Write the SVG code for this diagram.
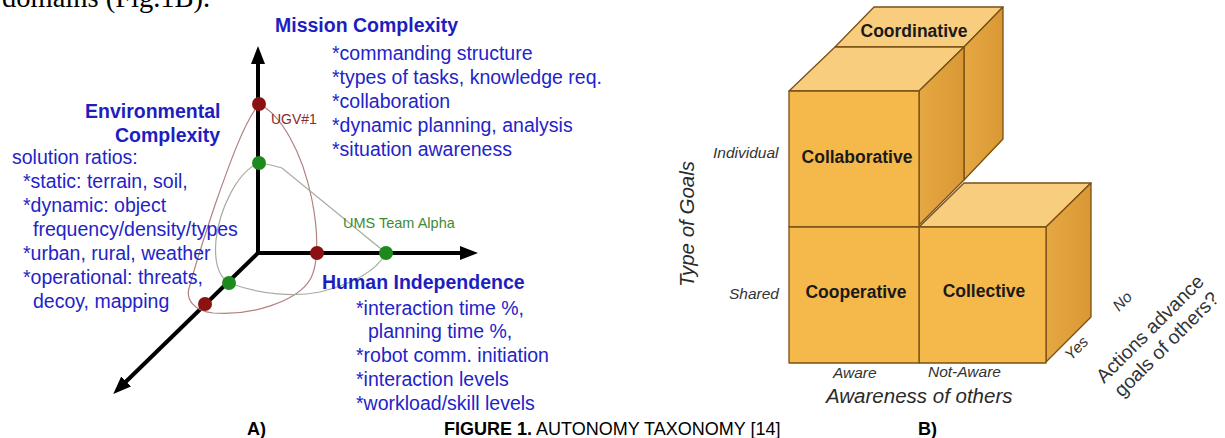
<svg xmlns="http://www.w3.org/2000/svg" width="1225" height="438" viewBox="0 0 1225 438">
<style>
.bt{font-family:"Liberation Sans",Arial,sans-serif;font-size:19.5px;fill:#2323c8}
.bh{font-family:"Liberation Sans",Arial,sans-serif;font-size:19.5px;font-weight:bold;fill:#1e1ebf}
.ax{stroke:#000;stroke-width:4;fill:none}
.dr{fill:#8b1212}
.dg{fill:#1e8a1e}
.cv{fill:none;stroke-width:1.2}
.fr{fill:#f5b84b;stroke:#7a4f14;stroke-width:1.3;stroke-linejoin:round}
.tp{fill:#f9cd7e;stroke:#7a4f14;stroke-width:1.3;stroke-linejoin:round}
.rt{fill:url(#rg);stroke:#7a4f14;stroke-width:1.3;stroke-linejoin:round}
.cl{font-family:"Liberation Sans",Arial,sans-serif;font-size:17.5px;font-weight:bold;fill:#1a1a1a;text-anchor:middle}
.it{font-family:"Liberation Sans",Arial,sans-serif;font-style:italic;font-size:15.5px;fill:#333}
.ib{font-family:"Liberation Sans",Arial,sans-serif;font-style:italic;font-size:20.5px;fill:#2a2a2a}
.rq{font-family:"Liberation Sans",Arial,sans-serif;font-size:19.5px;fill:#333}
.cap{font-family:"Liberation Sans",Arial,sans-serif;font-size:18px;fill:#000}
</style>
<defs>
<marker id="ah" markerUnits="userSpaceOnUse" markerWidth="18" markerHeight="14" viewBox="0 0 18 14" refX="3" refY="7" orient="auto">
<path d="M0,0 L18,7 L0,14 z" fill="#000"/>
</marker>
<linearGradient id="rg" x1="0" y1="0" x2="1" y2="0">
<stop offset="0" stop-color="#e6a843"/>
<stop offset="1" stop-color="#d99833"/>
</linearGradient>
</defs>
<rect width="1225" height="438" fill="#fff"/>

<text x="2" y="7" font-family="'Liberation Serif',serif" font-size="28.5" fill="#000">domains (Fig.1B).</text>

<g id="connectors">
<line class="ax" x1="258" y1="255" x2="258" y2="61" marker-end="url(#ah)"/>
<line class="ax" x1="256" y1="253" x2="463" y2="253" marker-end="url(#ah)"/>
<line class="ax" x1="259" y1="252" x2="124" y2="383.5" marker-end="url(#ah)"/>
<path class="cv" stroke="#b08080" d="M259,104 C280,114 302,150 312,200 C318,230 319,262 311,278 C298,302 250,316 213,313 C195,311 184,300 190,285 C196,262 205,235 215,205 C228,168 244,122 259,104 Z"/>
<path class="cv" stroke="#a8aca0" d="M259,163 C268,164 276,166 282,168 L386,253 C378,268 360,282 320,292 C295,297 262,295 229,283 C218,276 214,262 216,240 C219,212 236,172 259,163 Z"/>
</g>

<g id="points">
<circle class="dr" cx="259" cy="104" r="7"/>
<circle class="dg" cx="259" cy="163" r="7"/>
<circle class="dr" cx="317" cy="253" r="7"/>
<circle class="dg" cx="386" cy="253" r="7"/>
<circle class="dg" cx="229" cy="283" r="7"/>
<circle class="dr" cx="205" cy="304" r="7"/>
</g>

<g id="label-ugv">
<text x="271" y="124" font-family="'Liberation Sans',Arial,sans-serif" font-size="14" fill="#8b2a2a">UGV#1</text>
</g>
<g id="label-ums">
<text x="343" y="228" font-family="'Liberation Sans',Arial,sans-serif" font-size="14.5" fill="#3f8a35">UMS Team Alpha</text>
</g>

<g id="mission">
<text class="bh" x="275" y="32">Mission Complexity</text>
<text class="bt" x="332" y="60">*commanding structure</text>
<text class="bt" x="332" y="84">*types of tasks, knowledge req.</text>
<text class="bt" x="332" y="108">*collaboration</text>
<text class="bt" x="332" y="132">*dynamic planning, analysis</text>
<text class="bt" x="332" y="156">*situation awareness</text>
</g>

<g id="environmental">
<text class="bh" x="85" y="118" font-size="20.3">Environmental</text>
<text class="bh" x="115" y="142" font-size="20">Complexity</text>
<text class="bt" x="12" y="164">solution ratios:</text>
<text class="bt" x="23" y="188">*static: terrain, soil,</text>
<text class="bt" x="23" y="212">*dynamic: object</text>
<text class="bt" x="33" y="236">frequency/density/types</text>
<text class="bt" x="23" y="260">*urban, rural, weather</text>
<text class="bt" x="23" y="284">*operational: threats,</text>
<text class="bt" x="33" y="308">decoy, mapping</text>
</g>

<g id="human">
<text class="bh" x="322" y="289">Human Independence</text>
<text class="bt" x="356" y="315">*interaction time %,</text>
<text class="bt" x="368" y="338">planning time %,</text>
<text class="bt" x="356" y="362">*robot comm. initiation</text>
<text class="bt" x="356" y="386">*interaction levels</text>
<text class="bt" x="356" y="410">*workload/skill levels</text>
</g>

<g id="cube-coordinative">
<polygon class="tp" points="835,47 964,47 1003,7 874,7"/>
<polygon class="rt" points="964,47 1003,7 1003,139 964,180"/>
<text class="cl" x="914" y="37">Coordinative</text>
</g>
<g id="cube-collaborative">
<polygon class="tp" points="789,91 919,91 964,47 835,47"/>
<polygon class="rt" points="919,91 964,47 964,180 919,225"/>
<rect class="fr" x="789" y="91" width="130" height="136"/>
<text class="cl" x="857" y="163">Collaborative</text>
</g>
<g id="cube-collective">
<polygon class="tp" points="919,227 1046,227 1091,183 964,183"/>
<polygon class="rt" points="1046,227 1091,183 1091,317 1046,362"/>
<rect class="fr" x="919" y="227" width="127" height="136"/>
<text class="cl" x="984" y="297">Collective</text>
</g>
<g id="cube-cooperative">
<rect class="fr" x="789" y="227" width="130" height="136"/>
<text class="cl" x="856" y="298">Cooperative</text>
</g>

<g id="axis-labels">
<text class="it" x="713" y="158">Individual</text>
<text class="it" x="729" y="299">Shared</text>
<text class="it" x="833" y="378">Aware</text>
<text class="it" x="928" y="377">Not-Aware</text>
<text class="ib" x="826" y="403">Awareness of others</text>
<text class="ib" x="694" y="224" text-anchor="middle" transform="rotate(-90 694 224)">Type of Goals</text>
<text class="it" x="1071" y="361" transform="rotate(-45 1071 361)">Yes</text>
<text class="it" x="1119" y="312" transform="rotate(-45 1119 312)">No</text>
<text class="rq" x="1104" y="384" transform="rotate(-45 1104 384)">Actions advance</text>
<text class="rq" x="1122" y="398" transform="rotate(-45 1122 398)">goals of others?</text>
</g>

<g id="caption">
<text class="cap" x="247" y="435" font-weight="bold">A)</text>
<text class="cap" x="444" y="435"><tspan font-weight="bold">FIGURE 1.</tspan> AUTONOMY TAXONOMY [14]</text>
<text class="cap" x="918" y="435" font-weight="bold">B)</text>
</g>
</svg>
